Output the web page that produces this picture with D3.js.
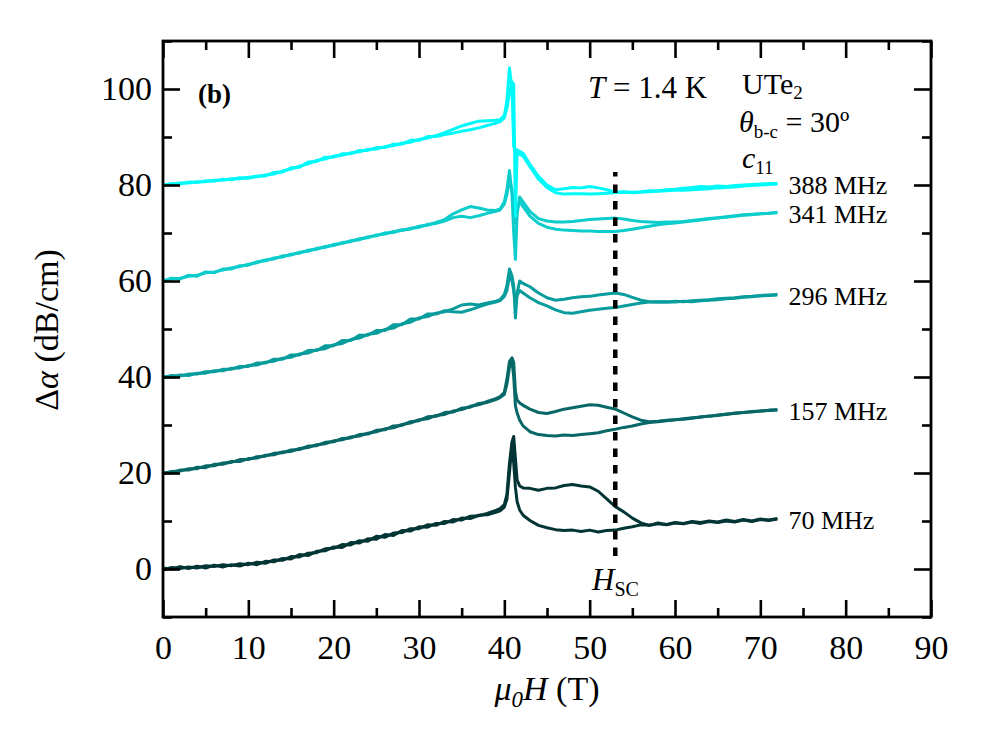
<!DOCTYPE html>
<html>
<head>
<meta charset="utf-8">
<script src="https://cdn.jsdelivr.net/npm/d3@7"></script>
<style>
body { margin: 0; background: #fff; }
svg { font-family: "Liberation Serif", "Times New Roman", serif; }
</style>
</head>
<body>
<div id="chart"></div>
<script>
// field grid (T): 1 T steps, denser around the 41 T metamagnetic peak
const fields = [
    0, 1, 2, 3, 4, 5, 6, 7, 8, 9,
    10, 11, 12, 13, 14, 15, 16, 17, 18, 19,
    20, 21, 22, 23, 24, 25, 26, 27, 28, 29,
    30, 31, 32, 33, 34, 35, 36, 37, 38,
    39, 39.5, 40, 40.3, 40.6, 40.9, 41.1, 41.3, 41.5, 41.8, 42.2,
    43, 44, 45, 46, 47, 48, 49, 50, 51, 52,
    53, 54, 55, 56, 57, 58, 59, 60, 61, 62,
    63, 64, 65, 66, 67, 68, 69, 70, 71, 72
];

const freqLabels = ["70 MHz", "157 MHz", "296 MHz", "341 MHz", "388 MHz"];
const offsets = [0, 20, 40, 60, 80];
const colors = ["#033535", "#086868", "#089c9c", "#0ccccc", "#00fafa"];

// two field sweeps per frequency, values before the offset is added
const sweepA70 = [
    0.2, 0.0, 0.5, 0.1, 0.6, 0.2, 0.8, 0.4, 0.9, 0.6,
    1.2, 0.9, 1.6, 1.5, 2.2, 2.1, 3.0, 2.8, 3.7, 3.8,
    4.6, 4.5, 5.5, 5.4, 6.3, 6.2, 7.2, 7.0, 8.0, 7.9,
    8.8, 8.7, 9.5, 9.5, 10.3, 10.2, 11.0, 11.1, 11.6,
    12.2, 12.6, 13.4, 15.5, 22.0, 26.5, 27.6, 23.0, 18.5, 17.3, 16.9,
    16.8, 16.4, 16.8, 16.9, 17.4, 17.6, 17.3, 17.1, 16.2, 14.6,
    13.0, 11.9, 10.6, 9.6, 9.1, 9.4, 9.2, 9.6, 9.4, 9.8,
    9.5, 9.9, 9.7, 10.0, 9.8, 10.2, 9.9, 10.3, 10.1, 10.4
];
const sweepB70 = [
    -0.2, 0.3, 0.1, 0.4, 0.2, 0.7, 0.5, 0.9, 0.7, 1.1,
    0.9, 1.4, 1.2, 1.9, 1.8, 2.6, 2.5, 3.3, 3.4, 4.2,
    4.3, 5.1, 5.0, 5.9, 5.8, 6.8, 6.6, 7.5, 7.6, 8.4,
    8.4, 9.2, 9.1, 9.9, 9.8, 10.6, 10.5, 11.2, 11.3,
    11.8, 12.1, 12.9, 14.5, 20.0, 26.0, 22.0, 17.0, 14.0, 12.3, 11.2,
    10.1, 9.1, 8.6, 8.2, 8.0, 8.1, 7.8, 8.1, 7.7, 8.0,
    8.1, 8.5, 8.8, 9.2, 9.1, 9.6, 9.3, 9.7, 9.5, 9.9,
    9.7, 10.0, 9.8, 10.2, 9.9, 10.3, 10.0, 10.4, 10.2, 10.5
];
const sweepA157 = [
    0.1, 0.0, 0.6, 0.6, 1.2, 1.1, 1.8, 1.8, 2.4, 2.4,
    3.0, 3.1, 3.7, 3.8, 4.4, 4.5, 5.1, 5.3, 5.9, 6.1,
    6.7, 6.9, 7.5, 7.7, 8.3, 8.6, 9.2, 9.4, 10.1, 10.4,
    11.1, 11.3, 12.0, 12.2, 12.9, 13.2, 13.9, 14.2, 14.9,
    15.5, 15.9, 16.8, 19.5, 23.2, 24.0, 23.0, 17.0, 15.2, 14.6, 14.1,
    13.3, 12.6, 12.4, 12.8, 13.3, 13.6, 13.9, 14.2, 14.1, 13.7,
    13.3, 12.5, 11.7, 11.0, 10.7, 10.8, 11.0, 11.1, 11.3, 11.5,
    11.6, 11.9, 12.0, 12.3, 12.4, 12.6, 12.7, 12.9, 13.0, 13.1
];
const sweepB157 = [
    -0.1, 0.3, 0.4, 0.9, 0.9, 1.5, 1.5, 2.1, 2.2, 2.8,
    2.8, 3.4, 3.5, 4.1, 4.2, 4.8, 4.9, 5.6, 5.7, 6.4,
    6.5, 7.2, 7.3, 8.0, 8.1, 8.9, 9.0, 9.8, 9.9, 10.7,
    10.9, 11.7, 11.8, 12.6, 12.7, 13.5, 13.7, 14.5, 14.7,
    15.3, 15.7, 16.4, 18.5, 22.0, 23.4, 20.0, 14.0, 12.5, 11.0, 9.8,
    8.6, 8.0, 7.8, 7.7, 7.9, 7.8, 8.0, 8.2, 8.4, 8.8,
    9.1, 9.5, 9.8, 10.2, 10.5, 10.7, 10.9, 11.1, 11.2, 11.4,
    11.7, 11.8, 12.1, 12.2, 12.5, 12.6, 12.8, 12.9, 13.1, 13.2
];
const sweepA296 = [
    0.1, 0.0, 0.4, 0.3, 0.8, 0.8, 1.3, 1.3, 1.8, 1.9,
    2.4, 2.5, 3.1, 3.3, 3.9, 4.1, 4.8, 5.0, 5.7, 5.9,
    6.7, 7.0, 7.8, 8.1, 8.9, 9.1, 9.9, 10.2, 11.1, 11.4,
    12.3, 12.6, 13.3, 13.6, 14.2, 15.0, 15.2, 15.0, 15.4,
    15.8, 16.1, 17.2, 19.0, 22.5, 21.0, 19.0, 12.3, 17.5, 20.0, 19.5,
    18.8, 17.5, 16.5, 16.0, 16.2, 16.5, 16.7, 16.8, 17.1, 17.3,
    17.5, 17.2, 16.6, 16.0, 15.7, 15.6, 15.7, 15.6, 15.8, 15.7,
    15.9, 16.0, 16.1, 16.3, 16.4, 16.6, 16.7, 16.9, 17.0, 17.1
];
const sweepB296 = [
    -0.1, 0.3, 0.2, 0.6, 0.6, 1.1, 1.1, 1.6, 1.6, 2.2,
    2.2, 2.9, 2.9, 3.7, 3.7, 4.6, 4.6, 5.5, 5.5, 6.5,
    6.5, 7.6, 7.6, 8.7, 8.7, 9.7, 9.7, 10.9, 10.9, 12.1,
    12.1, 13.1, 13.1, 13.8, 13.6, 13.5, 14.0, 14.6, 15.2,
    15.6, 15.9, 16.8, 18.0, 21.0, 20.0, 18.0, 15.5, 17.0, 18.0, 17.5,
    16.5, 15.5, 14.8, 14.0, 13.4, 13.3, 13.6, 13.9, 14.1, 14.3,
    14.5, 14.8, 15.1, 15.4, 15.6, 15.7, 15.6, 15.8, 15.7, 15.9,
    16.0, 16.1, 16.3, 16.4, 16.5, 16.7, 16.8, 17.0, 17.1, 17.2
];
const sweepA341 = [
    0.1, 0.4, 0.6, 1.0, 1.2, 1.7, 1.9, 2.3, 2.7, 3.0,
    3.5, 3.8, 4.4, 4.6, 5.2, 5.4, 6.0, 6.2, 6.8, 7.0,
    7.6, 7.8, 8.4, 8.6, 9.2, 9.4, 10.0, 10.1, 10.7, 10.8,
    11.4, 11.6, 12.2, 12.8, 14.0, 14.8, 15.5, 15.2, 14.8,
    14.7, 15.0, 16.5, 19.0, 23.0, 18.0, 10.0, 4.5, 14.0, 17.5, 16.5,
    14.5, 13.0, 12.5, 12.3, 12.3, 12.4, 12.6, 12.8, 12.9, 13.0,
    13.1, 12.9, 12.6, 12.4, 12.3, 12.2, 12.3, 12.3, 12.4, 12.6,
    12.8, 13.0, 13.2, 13.4, 13.6, 13.8, 13.9, 14.0, 14.1, 14.2
];
const sweepB341 = [
    -0.1, 0.6, 0.4, 1.2, 1.0, 1.9, 1.7, 2.5, 2.5, 3.2,
    3.3, 4.0, 4.2, 4.8, 5.0, 5.6, 5.8, 6.4, 6.6, 7.2,
    7.4, 8.0, 8.2, 8.8, 9.0, 9.6, 9.8, 10.3, 10.5, 11.0,
    11.2, 11.8, 12.0, 12.5, 13.2, 13.5, 13.2, 13.6, 14.1,
    14.5, 14.8, 16.0, 18.0, 21.0, 19.0, 16.0, 12.0, 15.0, 16.5, 15.5,
    13.5, 12.0, 11.2, 10.8, 10.6, 10.5, 10.4, 10.4, 10.3, 10.3,
    10.3, 10.5, 10.8, 11.1, 11.4, 11.7, 11.9, 12.1, 12.3, 12.5,
    12.7, 12.9, 13.1, 13.3, 13.5, 13.7, 13.8, 14.0, 14.1, 14.3
];
const sweepA388 = [
    0.1, 0.1, 0.4, 0.4, 0.7, 0.7, 1.0, 1.0, 1.3, 1.3,
    1.6, 1.7, 2.1, 2.3, 2.9, 3.3, 3.9, 4.4, 5.1, 5.4,
    6.0, 6.2, 6.7, 6.9, 7.4, 7.5, 8.0, 8.2, 8.7, 8.9,
    9.5, 9.8, 10.3, 10.9, 11.6, 12.3, 12.8, 13.3, 13.4,
    13.5, 13.6, 14.5, 17.5, 24.4, 20.0, 8.0, 7.5, 7.3, 7.0, 6.6,
    4.3, 1.8, 0.0, -1.0, -0.8, -0.5, -0.6, -0.3, -0.6, -1.0,
    -1.5, -1.4, -1.5, -1.4, -1.2, -1.2, -1.0, -0.9, -0.7, -0.5,
    -0.3, -0.4, -0.2, -0.3, -0.1, 0.0, 0.1, 0.2, 0.3, 0.3
];
const sweepB388 = [
    -0.1, 0.3, 0.2, 0.6, 0.5, 0.9, 0.8, 1.2, 1.1, 1.5,
    1.4, 1.9, 1.9, 2.6, 2.7, 3.6, 3.7, 4.8, 4.9, 5.8,
    5.8, 6.5, 6.5, 7.2, 7.2, 7.8, 7.8, 8.5, 8.5, 9.3,
    9.3, 10.1, 10.1, 10.5, 10.8, 11.2, 11.5, 11.9, 12.4,
    12.9, 13.2, 14.0, 16.0, 19.0, 21.5, 21.0, -6.5, 6.8, 6.4, 6.0,
    3.8, 1.2, -0.5, -1.6, -1.9, -1.8, -1.8, -1.9, -1.8, -1.7,
    -1.6, -1.5, -1.6, -1.5, -1.4, -1.3, -1.2, -1.1, -1.1, -1.0,
    -0.9, -0.8, -0.6, -0.5, -0.4, -0.2, -0.1, 0.0, 0.1, 0.2
];

const sweeps = [
    [sweepA70, sweepB70],
    [sweepA157, sweepB157],
    [sweepA296, sweepB296],
    [sweepA341, sweepB341],
    [sweepA388, sweepB388]
];

// superconducting critical field marker
const hsc = 53;
const hscSpan = [2.7, 82.7];

const width = 996, height = 730;
const x = d3.scaleLinear().domain([0, 90]).range([163, 931]);
const y = d3.scaleLinear().domain([-10, 110]).range([617, 41]);

const svg = d3.select("#chart")
    .append("svg")
    .attr("width", width)
    .attr("height", height);

// curves
const line = d3.line()
    .x((d, i) => x(fields[i]))
    .y(d => y(d));

sweeps.forEach((pair, k) => {
    pair.forEach(vals => {
        svg.append("path")
            .datum(vals.map(v => v + offsets[k]))
            .attr("fill", "none")
            .attr("stroke", colors[k])
            .attr("stroke-width", 3)
            .attr("stroke-linejoin", "round")
            .attr("d", line);
    });
    const last = d3.mean(pair, p => p[p.length - 1]) + offsets[k];
    svg.append("text")
        .attr("x", x(fields[fields.length - 1]) + 11)
        .attr("y", y(last) + 10)
        .attr("font-size", 26)
        .text(freqLabels[k]);
});

// H_SC dashed line
svg.append("line")
    .attr("x1", x(hsc)).attr("x2", x(hsc))
    .attr("y1", y(hscSpan[0])).attr("y2", y(hscSpan[1]))
    .attr("stroke", "#000")
    .attr("stroke-width", 4.5)
    .attr("stroke-dasharray", "8.5,8");

// axes, ticks pointing inward on all four sides
const xMajor = d3.range(0, 91, 10);
const xMinor = d3.range(5, 90, 10);
const yMajor = d3.range(0, 101, 20);
const yMinor = d3.range(-10, 111, 20);

function styleAxis(g) {
    g.select(".domain").remove();
    g.selectAll(".tick line").attr("stroke-width", 2.6);
    g.selectAll("text").attr("font-size", 34).attr("font-family", "Liberation Serif, serif").attr("fill", "#000");
}

svg.append("g").attr("transform", "translate(0,617)")
    .call(d3.axisBottom(x).tickValues(xMajor).tickSize(-17).tickPadding(18))
    .call(styleAxis);
svg.append("g").attr("transform", "translate(0,617)")
    .call(d3.axisBottom(x).tickValues(xMinor).tickSize(-9).tickFormat(""))
    .call(styleAxis);
svg.append("g").attr("transform", "translate(0,41)")
    .call(d3.axisTop(x).tickValues(xMajor).tickSize(-17).tickFormat(""))
    .call(styleAxis);
svg.append("g").attr("transform", "translate(0,41)")
    .call(d3.axisTop(x).tickValues(xMinor).tickSize(-9).tickFormat(""))
    .call(styleAxis);
svg.append("g").attr("transform", "translate(163,0)")
    .call(d3.axisLeft(y).tickValues(yMajor).tickSize(-17).tickPadding(11))
    .call(styleAxis);
svg.append("g").attr("transform", "translate(163,0)")
    .call(d3.axisLeft(y).tickValues(yMinor).tickSize(-9).tickFormat(""))
    .call(styleAxis);
svg.append("g").attr("transform", "translate(931,0)")
    .call(d3.axisRight(y).tickValues(yMajor).tickSize(-17).tickFormat(""))
    .call(styleAxis);
svg.append("g").attr("transform", "translate(931,0)")
    .call(d3.axisRight(y).tickValues(yMinor).tickSize(-9).tickFormat(""))
    .call(styleAxis);

svg.append("rect")
    .attr("x", 163).attr("y", 41)
    .attr("width", 931 - 163).attr("height", 617 - 41)
    .attr("fill", "none")
    .attr("stroke", "#000")
    .attr("stroke-width", 2.8);

// axis titles
const xt = svg.append("text")
    .attr("x", (163 + 931) / 2).attr("y", 700)
    .attr("text-anchor", "middle")
    .attr("font-size", 34);
xt.append("tspan").attr("font-style", "italic").text("μ");
xt.append("tspan").attr("font-style", "italic").attr("font-size", 23).attr("dy", 7).text("0");
xt.append("tspan").attr("font-style", "italic").attr("dy", -7).text("H");
xt.append("tspan").text(" (T)");

const yt = svg.append("text")
    .attr("transform", "translate(58,330) rotate(-90)")
    .attr("text-anchor", "middle")
    .attr("font-size", 34);
yt.append("tspan").text("Δ");
yt.append("tspan").attr("font-style", "italic").text("α");
yt.append("tspan").text(" (dB/cm)");

// annotations
svg.append("text")
    .attr("x", 198).attr("y", 103)
    .attr("font-size", 27).attr("font-weight", "bold")
    .text("(b)");

const tt = svg.append("text").attr("x", 588).attr("y", 98).attr("font-size", 31);
tt.append("tspan").attr("font-style", "italic").text("T");
tt.append("tspan").text(" = 1.4 K");

const ut = svg.append("text").attr("x", 742).attr("y", 94).attr("font-size", 30);
ut.append("tspan").text("UTe");
ut.append("tspan").attr("font-size", 19).attr("dy", 5).text("2");

const th = svg.append("text").attr("x", 739).attr("y", 132).attr("font-size", 30);
th.append("tspan").attr("font-style", "italic").text("θ");
th.append("tspan").attr("font-size", 19).attr("dy", 6).text("b-c");
th.append("tspan").attr("dy", -6).text(" = 30º");

const ct = svg.append("text").attr("x", 742).attr("y", 168).attr("font-size", 30);
ct.append("tspan").attr("font-style", "italic").text("c");
ct.append("tspan").attr("font-size", 19).attr("dy", 6).text("11");

const ht = svg.append("text").attr("x", 592).attr("y", 590).attr("font-size", 31);
ht.append("tspan").attr("font-style", "italic").text("H");
ht.append("tspan").attr("font-size", 20).attr("dy", 6).text("SC");
</script>
</body>
</html>
